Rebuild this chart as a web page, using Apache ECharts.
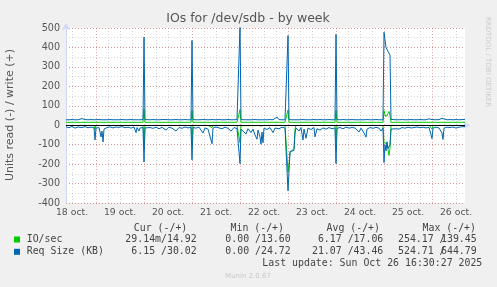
<!DOCTYPE html>
<html><head><meta charset="utf-8">
<script src="https://cdn.jsdelivr.net/npm/echarts@6/dist/echarts.min.js"></script>
<style>html,body{margin:0;padding:0;background:#F0F0F0;}#c{width:497px;height:287px;}</style>
</head><body><div id="c"></div>
<script>
// ---- data ----
const chartTitle = 'IOs for /dev/sdb - by week';
const yAxisTitle = 'Units read (-) / write (+)';
const dayLabels = ['18 oct.','19 oct.','20 oct.','21 oct.','22 oct.','23 oct.','24 oct.','25 oct.','26 oct.'];
const startHour = 9;      // hours after 18 Oct 00:00
const endHour = 208.5;    // 26 Oct 16:30
const yMin = -400, yMax = 500;

// sample times, hours after 18 Oct 00:00
const times = [9,10.5,12,13.5,15,17,18.5,20,21.5,23,23.5,24,25.5,26.5,27,27.5,28,29.5,31,32.5,34,35.5,37,38.5,40,41.5,43,44,44.5,45.5,46,47.5,
48,48.5,49.5,51,52.5,54,55.5,57,58,59,60.5,62,64,65.5,67,68.5,70,71.5,
72,72.5,74,75.5,77.5,78.5,80,81,82,82.5,84,85.5,87,88.5,90,91.5,93,94.5,95.5,
96,96.5,97.5,99,100,101.5,102.5,103.5,104.5,105,106,106.5,107,107.5,108,109.5,111,112.5,113.5,114.5,115.5,117,118.5,119.5,
120,120.5,121,122,123,123.5,124,125.5,126.5,127.5,128,129,130,131.5,133,133.5,134.5,136,137.5,139,140.5,142,143.5,
144,144.5,146,147.5,149,150.5,152,153.5,155.5,156.5,158,159,159.5,161,162.5,164,165.5,166.5,167.5,
168,168.5,169,169.5,170,170.5,171,171.5,172.5,174,175.5,177,178.5,180,181.5,183,184.5,186,187.5,189,190.5,191.5,
192,192.5,194,195.5,197,197.5,198,199.5,201,202.5,204,205.5,207,208.5];

// IO/sec write (+)
const ioWrite = [15,15,15,15,15,15,15,15,15,15,16,15,15,15,15,15,15,15,15,15,15,15,15,15,15,15,15,15,15,15,15,15,
82,15,15,15,15,15,15,15,15,15,15,15,15,15,15,15,15,15,
75,15,15,15,15,15,15,15,15,15,15,15,15,15,15,15,15,15,15,
80,15,15,15,15,15,15,15,15,15,15,15,15,15,15,15,15,15,15,15,15,15,15,15,
78,15,15,15,15,15,15,15,15,15,15,15,15,15,15,15,15,15,15,15,15,15,15,
76,15,15,15,15,15,15,15,15,15,15,15,15,15,15,15,15,15,15,
75,55,44,50,60,71,50,15,15,15,15,15,15,15,15,15,15,15,15,15,15,15,
15,15,15,15,15,15,15,15,15,15,15,15,15,15];
// IO/sec read (-)
const ioRead = [1,1,1,2,1,1,1,1,1,2,22,2,1,6,2,10,1,1,1,1,1,1,1,1,1,1,1,2,1,2,1,1,
90,2,1,1,1,1,1,1,1,2,1,1,1,1,1,1,1,1,
85,1,1,1,1,1,1,2,12,1,1,1,1,1,1,1,1,1,1,
90,2,1,2,1,2,1,2,3,1,2,4,1,3,1,1,1,1,1,1,1,1,1,1,
240,200,140,138,120,20,1,1,1,2,1,1,1,1,1,1,1,1,1,1,1,1,1,
80,2,1,1,1,1,1,1,1,1,1,1,1,1,1,1,1,1,1,
90,95,82,95,100,155,120,1,1,1,1,1,1,1,1,1,1,1,1,1,1,1,
20,1,1,1,1,2,1,1,1,1,1,1,1,1];
// Req Size (KB) write (+)
const reqWrite = [28,28,29,28,28,34,29,28,29,28,29,28,29,29,28,28,29,28,29,28,28,28,29,28,28,29,28,28,28,28,28,29,
453,29,28,28,29,28,28,29,38,29,28,28,29,28,28,29,28,28,
436,29,28,28,29,28,28,28,29,28,28,29,28,28,29,28,28,29,28,
510,29,28,28,29,28,28,29,28,28,29,28,28,29,28,28,29,28,30,42,29,28,28,29,
461,29,28,28,28,28,29,28,28,29,28,28,29,28,29,28,28,29,28,28,29,28,28,
467,29,28,29,28,28,29,28,28,29,28,38,29,28,28,29,28,28,28,
478,470,400,392,380,385,360,30,29,28,28,29,28,28,29,28,28,29,28,28,33,28,
29,28,28,29,35,29,28,28,29,28,29,28,29,30];
// Req Size (KB) read (-)
const reqRead = [8,13,6,15,9,12,7,13,10,14,76,15,12,60,30,86,20,12,8,14,9,11,7,13,10,15,9,38,12,30,14,12,
189,14,20,12,16,10,18,11,14,25,10,15,30,12,16,9,14,11,
178,12,15,10,40,14,20,30,95,15,9,14,18,10,16,30,12,17,14,
197,20,15,45,18,38,20,50,72,25,60,98,35,90,15,22,12,38,15,12,18,10,15,12,
337,240,135,135,130,40,14,30,12,76,20,67,15,22,12,60,18,25,14,20,12,18,14,
197,16,12,18,10,15,12,14,35,15,40,61,20,12,16,11,15,30,14,
192,100,132,85,120,110,100,20,14,18,20,12,15,10,14,12,9,13,10,14,11,12,
69,15,10,14,40,73,15,10,12,9,15,10,8,6];

const legendHeaders = ['Cur (-/+)','Min (-/+)','Avg (-/+)','Max (-/+)'];
const seriesNames = ['IO/sec','Req Size (KB)'];
const seriesColors = ['#00CC00','#0066B3'];
const ioStats = ['29.14m/14.92','0.00 /13.60','6.17 /17.06','254.17 /','139.45'];
const reqStats = ['6.15 /30.02','0.00 /24.72','21.07 /43.46','524.71 /','644.79'];
const lastUpdate = 'Last update: Sun Oct 26 16:30:27 2025';
const muninVersion = 'Munin 2.0.67';
const rrdCredit = 'RRDTOOL / TOBI OETIKER';

// ---- build ----
const categories = [];
for (let h = startHour; h <= endHour; h += 0.5) categories.push(String(h));
const idx = h => Math.round((h - startHour) * 2);
const pos = arr => times.map((t, i) => [idx(t), arr[i]]);
const neg = arr => times.map((t, i) => [idx(t), -arr[i]]);

const chart = echarts.init(document.getElementById('c'), null, {renderer: 'canvas'});
const mono = '"DejaVu Sans Mono", monospace';
const sans = '"DejaVu Sans", sans-serif';
const txtCol = '#444444';
const axisCol = '#CFD6F8';
const minorGrid = 'rgba(150,150,150,0.38)';
const majorGrid = 'rgba(210,90,90,0.5)';

function lineSeries(name, data, color) {
  return {type: 'line', name, data, xAxisIndex: 0, yAxisIndex: 0, symbol: 'none',
    lineStyle: {color, width: 1}, itemStyle: {color}, clip: true, silent: true, z: 3};
}

const textEl = (text, x, y, align, extra) => Object.assign({
  type: 'text', x, y, silent: true,
  style: {text, x: 0, y: 0, font: '9.9px ' + mono, fill: txtCol, align, verticalAlign: 'middle'}
}, extra || {});

const graphics = [];
graphics.push({type: 'text', x: 248, y: 19, silent: true,
  style: {text: chartTitle, font: '12.5px ' + sans, fill: '#555555', align: 'center', verticalAlign: 'middle'}});
graphics.push({type: 'text', x: 10.5, y: 115, rotation: Math.PI / 2, silent: true,
  style: {text: yAxisTitle, font: '11px ' + sans, fill: '#555555', align: 'center', verticalAlign: 'middle'}});
graphics.push({type: 'text', x: 487.5, y: 62, rotation: -Math.PI / 2, silent: true,
  style: {text: rrdCredit, font: '7px ' + sans, fill: '#cccccc', align: 'center', verticalAlign: 'middle'}});
const headerRight = [187.3, 284, 380, 476];
legendHeaders.forEach((h, i) => graphics.push(textEl(h, headerRight[i], 228, 'right')));
const valRight = [196.7, 290.7, 383.3];
[[ioStats, 239.5], [reqStats, 251.8]].forEach(([st, y], r) => {
  graphics.push({type: 'rect', shape: {x: 14, y: y - 3, width: 6, height: 6}, style: {fill: seriesColors[r]}, silent: true});
  graphics.push(textEl(seriesNames[r], 26.7, y, 'left'));
  for (let i = 0; i < 3; i++) graphics.push(textEl(st[i], valRight[i], y, 'right'));
  graphics.push(textEl(st[3], 398, y, 'left'));
  graphics.push(textEl(st[4], 476.7, y, 'right'));
});
graphics.push(textEl(lastUpdate, 482.3, 263.5, 'right'));
graphics.push({type: 'text', x: 248, y: 276, silent: true,
  style: {text: muninVersion, font: '7px ' + sans, fill: '#c8c8c8', align: 'center', verticalAlign: 'middle'}});

const option = {
  animation: false,
  backgroundColor: '#F0F0F0',
  grid: {left: 66, top: 28, width: 399, height: 175, show: true, backgroundColor: '#FFFFFF', borderWidth: 0, containLabel: false},
  xAxis: [
    {type: 'category', data: categories, boundaryGap: false, position: 'bottom',
      axisLine: {show: true, lineStyle: {color: axisCol, width: 1}, symbol: ['none', 'arrow'], symbolSize: [6, 7], symbolOffset: [0, 5]},
      axisTick: {show: false},
      axisLabel: {show: true, interval: (i) => i % 48 === 6, formatter: (v, i) => dayLabels[Math.floor((Number(v) + 0.001) / 24)] || '',
        color: '#555555', fontSize: 9.3, fontFamily: sans, margin: 5, hideOverlap: false},
      splitLine: {show: true, interval: (i) => i % 12 === 6 && i % 48 !== 30, lineStyle: {color: minorGrid, width: 1, type: [1, 2]}},
      z: 1},
    {type: 'category', data: categories, boundaryGap: false, position: 'top',
      axisLine: {show: false}, axisTick: {show: false}, axisLabel: {show: false},
      splitLine: {show: true, interval: (i) => i % 48 === 30, lineStyle: {color: majorGrid, width: 1, type: [1, 2]}},
      z: 2}
  ],
  yAxis: [
    {type: 'value', min: yMin, max: yMax, interval: 100, position: 'left',
      axisLine: {show: true, lineStyle: {color: axisCol, width: 1}, symbol: ['none', 'arrow'], symbolSize: [6, 7], symbolOffset: [0, 5]},
      axisTick: {show: false},
      axisLabel: {color: '#555555', fontSize: 9.6, fontFamily: sans, margin: 6},
      splitLine: {show: true, lineStyle: {color: majorGrid, width: 1, type: [1, 2]}},
      z: 2},
    {type: 'value', min: yMin, max: yMax, interval: 50, position: 'right',
      axisLine: {show: false}, axisTick: {show: false}, axisLabel: {show: false},
      splitLine: {show: true, lineStyle: {color: minorGrid, width: 1, type: [1, 2]}},
      z: 1}
  ],
  series: [
    lineSeries('IO/sec read', neg(ioRead), seriesColors[0]),
    lineSeries('IO/sec write', pos(ioWrite), seriesColors[0]),
    lineSeries('Req read', neg(reqRead), seriesColors[1]),
    Object.assign(lineSeries('Req write', pos(reqWrite), seriesColors[1]), {
      markLine: {silent: true, symbol: ['none', 'none'], label: {show: false},
        lineStyle: {color: '#000000', width: 1, type: 'solid'}, data: [{yAxis: 0}], z: 5}
    })
  ],
  graphic: graphics
};
chart.setOption(option);
</script></body></html>
